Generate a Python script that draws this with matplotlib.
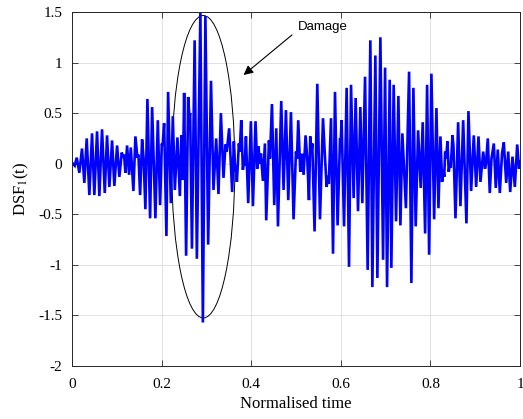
import numpy as np
import matplotlib
matplotlib.use("Agg")
import matplotlib.pyplot as plt
from matplotlib.patches import Ellipse

plt.rcParams["font.family"] = ["Liberation Serif", "DejaVu Serif"]
plt.rcParams["mathtext.fontset"] = "stix"

# signal turning points (normalised time, DSF_1)
t_pts = [
    0.002, 0.0060, 0.0105, 0.0163, 0.0223, 0.0275, 0.0328, 0.0387, 0.0447, 0.0498,
    0.0559, 0.0610, 0.0670, 0.0731, 0.0782, 0.0834, 0.0894, 0.0945, 0.1006, 0.1057,
    0.1111, 0.1140, 0.1162, 0.1191, 0.1229, 0.1274, 0.1312, 0.1370, 0.1415, 0.1459,
    0.1482, 0.1520, 0.1564, 0.1598, 0.1638, 0.1683, 0.1743, 0.1788, 0.1861, 0.1915,
    0.1966, 0.2004, 0.2022, 0.2056, 0.2107, 0.2145, 0.2206, 0.2250, 0.2295, 0.2353,
    0.2407, 0.2442, 0.2474, 0.2503, 0.2547, 0.2592, 0.2621, 0.2637, 0.2677, 0.2737,
    0.2787, 0.2865, 0.2921, 0.2977, 0.3039, 0.3102, 0.3158, 0.3218, 0.3269, 0.3323,
    0.3381, 0.3426, 0.3453, 0.3508, 0.3575, 0.3613, 0.3642, 0.3660, 0.3680, 0.3725,
    0.3743, 0.3777, 0.3814, 0.3837, 0.3855, 0.3882, 0.3933, 0.3993, 0.4038, 0.4096,
    0.4134, 0.4163, 0.4190, 0.4217, 0.4261, 0.4306, 0.4335, 0.4396, 0.4418, 0.4463,
    0.4514, 0.4559, 0.4597, 0.4670, 0.4722, 0.4775, 0.4827, 0.4887, 0.4945, 0.4999,
    0.5021, 0.5050, 0.5095, 0.5133, 0.5169, 0.5213, 0.5251, 0.5289, 0.5318, 0.5341,
    0.5363, 0.5414, 0.5475, 0.5535, 0.5602, 0.5642, 0.5683, 0.5709, 0.5732, 0.5781,
    0.5826, 0.5870, 0.5928, 0.5982, 0.5996, 0.6018, 0.6072, 0.6130, 0.6183, 0.6228,
    0.6286, 0.6331, 0.6384, 0.6436, 0.6480, 0.6541, 0.6599, 0.6659, 0.6704, 0.6771,
    0.6816, 0.6883, 0.6943, 0.6988, 0.7032, 0.7091, 0.7128, 0.7180, 0.7233, 0.7285,
    0.7330, 0.7374, 0.7453, 0.7524, 0.7575, 0.7620, 0.7671, 0.7725, 0.7783, 0.7828,
    0.7882, 0.7926, 0.7971, 0.8022, 0.8083, 0.8134, 0.8179, 0.8223, 0.8261, 0.8291,
    0.8308, 0.8329, 0.8351, 0.8380, 0.8409, 0.8436, 0.8454, 0.8492, 0.8514, 0.8559,
    0.8619, 0.8670, 0.8731, 0.8804, 0.8849, 0.8909, 0.8968, 0.9021, 0.9073, 0.9117,
    0.9178, 0.9218, 0.9240, 0.9281, 0.9325, 0.9363, 0.9415, 0.9459, 0.9504, 0.9549,
    0.9598, 0.9638, 0.9692, 0.9736, 0.9781, 0.9832, 0.9884, 0.9937, 0.9978, 1.0,
]
dsf_pts = [
    0.00, -0.02, 0.06, -0.09, 0.15, -0.19, 0.25, -0.31, 0.30, -0.31,
    0.32, -0.32, 0.34, -0.29, 0.28, -0.23, 0.23, -0.22, 0.18, -0.13,
    0.11, 0.06, 0.09, -0.09, 0.18, -0.11, 0.16, -0.27, 0.27, 0.06,
    0.09, -0.31, 0.24, 0.05, -0.45, 0.64, -0.54, 0.56, -0.54, 0.43,
    -0.41, 0.20, 0.18, 0.40, -0.715, 0.71, -0.39, 0.47, -0.26, 0.26,
    -0.32, 0.28, -0.16, 0.70, -0.91, 0.66, 0.46, 0.50, -0.84, 1.22,
    -0.94, 1.49, -1.57, 1.46, -0.80, 0.82, -0.26, 0.25, -0.30, 0.50,
    -0.14, 0.19, 0.12, 0.35, -0.28, 0.22, -0.08, -0.02, -0.18, 0.20,
    0.12, 0.43, -0.06, 0.02, -0.02, 0.27, -0.39, 0.42, -0.42, 0.42,
    -0.05, 0.17, 0.00, 0.10, -0.17, 0.20, -0.56, 0.23, 0.05, 0.59,
    -0.41, 0.35, -0.62, 0.62, -0.26, 0.53, -0.36, 0.51, -0.55, 0.12,
    0.05, 0.43, -0.08, 0.10, -0.11, 0.28, 0.05, -0.36, 0.27, 0.10,
    0.20, -0.67, 0.79, -0.55, 0.45, 0.10, -0.23, -0.12, -0.20, 0.45,
    -0.89, 0.71, -0.61, 0.25, 0.22, 0.43, -0.62, 0.75, -1.02, 0.78,
    -0.34, 0.65, -0.47, 0.56, -0.39, 0.86, -1.05, 1.22, -1.22, 1.07,
    -1.13, 1.25, -0.95, 0.95, -1.22, 0.83, -1.03, 0.78, -0.57, 0.67,
    -0.61, 0.30, -0.44, 0.91, -1.18, 0.75, -0.62, 0.33, -0.24, 0.41,
    -0.69, 0.78, -0.90, 0.89, -0.55, 0.55, -0.44, 0.27, -0.18, -0.06,
    -0.13, 0.12, 0.05, 0.22, -0.08, 0.00, -0.04, 0.28, 0.18, -0.54,
    0.41, -0.42, 0.43, -0.59, 0.52, -0.27, 0.28, -0.23, 0.27, -0.18,
    0.12, -0.05, 0.00, 0.25, -0.29, 0.05, 0.20, -0.24, 0.14, -0.29,
    0.10, 0.21, -0.19, 0.12, -0.28, 0.07, -0.23, 0.19, -0.05, 0.02,
]

x_ticks = [0, 0.2, 0.4, 0.6, 0.8, 1]
x_labels = ["0", "0.2", "0.4", "0.6", "0.8", "1"]
y_ticks = [-2, -1.5, -1, -0.5, 0, 0.5, 1, 1.5]
y_labels = ["-2", "-1.5", "-1", "-0.5", "0", "0.5", "1", "1.5"]

fig = plt.figure(figsize=(5.23, 4.19), dpi=100)
ax = fig.add_axes([0.1377, 0.1265, 0.8566, 0.8449])

ax.plot(t_pts, dsf_pts, color="#0000ff", linewidth=1.9, solid_joinstyle="miter")

# damage region marker
ax.add_patch(Ellipse((0.293, -0.03), 0.141, 2.99, fill=False,
                     edgecolor="black", linewidth=0.7))
ax.annotate("", xy=(0.383, 0.877), xytext=(0.491, 1.273),
            arrowprops=dict(arrowstyle="-|>", color="black", lw=0.8,
                            mutation_scale=14, shrinkA=0, shrinkB=0))
ax.text(0.505, 1.349, "Damage", family="Liberation Sans", fontsize=9.5,
        ha="left", va="center")

ax.set_xlim(0, 1)
ax.set_ylim(-2, 1.5)
ax.set_xticks(x_ticks)
ax.set_xticklabels(x_labels)
ax.set_yticks(y_ticks)
ax.set_yticklabels(y_labels)
ax.tick_params(direction="in", top=True, right=True, labelsize=11,
               length=4, width=0.6, color="#262626")
ax.tick_params(axis="x", pad=9)
ax.tick_params(axis="y", pad=7)
ax.grid(True, color="#dcdcdc", linewidth=0.6)
ax.set_axisbelow(True)
for s in ax.spines.values():
    s.set_color("#262626")
    s.set_linewidth(0.7)

ax.set_xlabel("Normalised time", fontsize=12, labelpad=3)
ax.set_ylabel(r"DSF$_1$(t)", fontsize=12, labelpad=5)

fig.savefig("out.png", dpi=100)
